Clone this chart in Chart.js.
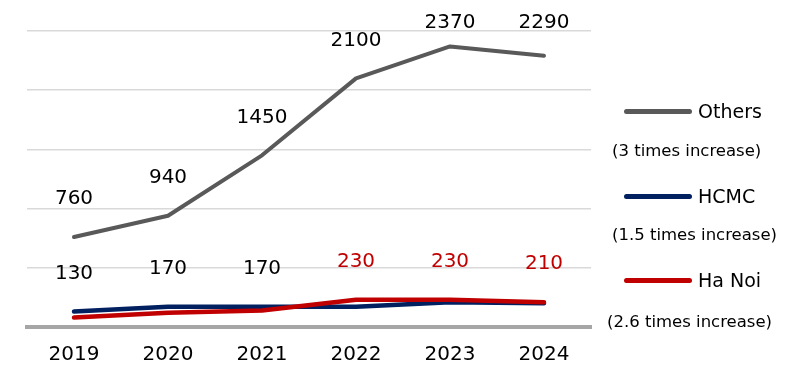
<!DOCTYPE html>
<html lang="en">
<head>
  <meta charset="UTF-8" />
  <title>Growth by region</title>
  <script src="https://cdn.jsdelivr.net/npm/chart.js"></script>
  <style>
    body { margin: 0; background: #fff; }
    .wrap { position: relative; width: 800px; height: 388px; }
    .legend-item {
      position: absolute;
      left: 624px;
      display: flex;
      align-items: center;
      height: 24px;
      font-family: 'DejaVu Sans', sans-serif;
      font-size: 19px;
      color: #000;
    }
    .swatch { width: 68px; height: 5px; border-radius: 3px; margin-right: 6px; }
    .note {
      position: absolute;
      font-family: 'DejaVu Sans', sans-serif;
      font-size: 16.5px;
      line-height: 20px;
      color: #000;
      white-space: nowrap;
    }
  </style>
</head>
<body>
  <div class="wrap">
    <canvas id="chart" width="800" height="388"></canvas>

    <div class="legend-item" style="top:99px"><span class="swatch" style="background:#595959"></span>Others</div>
    <div class="note" style="top:141px; left:612px">(3 times increase)</div>
    <div class="legend-item" style="top:184px"><span class="swatch" style="background:#002060"></span>HCMC</div>
    <div class="note" style="top:225px; left:612px">(1.5 times increase)</div>
    <div class="legend-item" style="top:268px"><span class="swatch" style="background:#c00000"></span>Ha Noi</div>
    <div class="note" style="top:312px; left:607px">(2.6 times increase)</div>
  </div>

  <script>
    const years = ['2019', '2020', '2021', '2022', '2023', '2024'];
    const others = [760, 940, 1450, 2100, 2370, 2290];
    const hcmc = [130, 170, 170, 170, 210, 200];
    const hanoi = [80, 120, 140, 230, 230, 210];
    // which years get a value label for each series
    const othersLabelled = [true, true, true, true, true, true];
    const hcmcLabelled = [true, true, true, false, false, false];
    const hanoiLabelled = [false, false, false, true, true, true];

    // value labels above points, kept inside the top of the canvas
    const valueLabels = {
      id: 'valueLabels',
      afterDatasetsDraw(chart) {
        const ctx = chart.ctx;
        ctx.save();
        ctx.font = '20px "DejaVu Sans", Verdana, sans-serif';
        ctx.textAlign = 'center';
        ctx.textBaseline = 'middle';
        chart.data.datasets.forEach((ds, i) => {
          const meta = chart.getDatasetMeta(i);
          meta.data.forEach((pt, j) => {
            if (!ds.labelled[j]) return;
            ctx.fillStyle = ds.labelColor;
            ctx.fillText(ds.data[j], pt.x, Math.max(pt.y - 38, 23));
          });
        });
        ctx.restore();
      }
    };

    new Chart(document.getElementById('chart'), {
      type: 'line',
      data: {
        labels: years,
        datasets: [
          { label: 'Others', data: others, borderColor: '#595959', borderWidth: 4, order: 2,
            labelled: othersLabelled, labelColor: '#000' },
          { label: 'HCMC', data: hcmc, borderColor: '#002060', borderWidth: 4.5, order: 1,
            labelled: hcmcLabelled, labelColor: '#000' },
          { label: 'Ha Noi', data: hanoi, borderColor: '#c00000', borderWidth: 4.5, order: 0,
            labelled: hanoiLabelled, labelColor: '#c00000' }
        ]
      },
      options: {
        responsive: false,
        animation: false,
        layout: { padding: { top: 31, left: 27, right: 209, bottom: 5 } },
        elements: {
          point: { radius: 0 },
          line: { tension: 0, borderCapStyle: 'round', borderJoinStyle: 'round' }
        },
        plugins: { legend: { display: false }, tooltip: { enabled: false } },
        scales: {
          x: {
            offset: true,
            grid: { display: false, drawTicks: false },
            border: { display: true, color: '#a6a6a6', width: 4 },
            ticks: {
              color: '#000',
              padding: 16,
              font: { family: '"DejaVu Sans", Verdana, sans-serif', size: 20 }
            }
          },
          y: {
            min: 0,
            max: 2500,
            ticks: { display: false, stepSize: 500 },
            border: { display: false },
            grid: {
              drawTicks: false,
              lineWidth: 1.5,
              color: c => c.tick.value === 0 ? 'rgba(0,0,0,0)' : '#d9d9d9'
            }
          }
        }
      },
      plugins: [valueLabels]
    });
  </script>
</body>
</html>
